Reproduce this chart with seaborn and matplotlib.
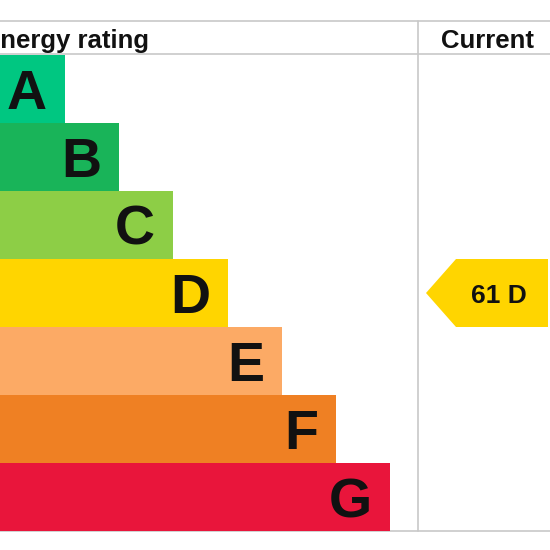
import matplotlib
matplotlib.use("Agg")
import matplotlib.pyplot as plt
import seaborn as sns
from matplotlib.patches import Polygon

# EPC bands, bar lengths and colours
bands = ["A", "B", "C", "D", "E", "F", "G"]
bar_length = [65, 119, 173, 228, 282, 336, 390]
band_colors = ["#00c781", "#19b459", "#8dce46", "#ffd500", "#fcaa65", "#ef8023", "#e9153b"]

current_score = 61
current_band = "D"

sns.set_theme(style="white")
plt.rcParams["font.family"] = ["Liberation Sans", "DejaVu Sans"]

fig = plt.figure(figsize=(5.5, 5.5), dpi=100)
ax = fig.add_axes([0, 0, 1, 1])

sns.barplot(x=bar_length, y=bands, hue=bands, palette=band_colors, orient="h",
            width=1.0, legend=False, saturation=1, linewidth=0, ax=ax)

# row geometry in pixels -> category units
row_h = 68.0
top_px = 55.0


def py(px):
    return (px - top_px) / row_h - 0.5


ax.set_xlim(0, 550)
ax.set_ylim(py(550), py(0))
ax.axis("off")

# band letters
for i, (b, w) in enumerate(zip(bands, bar_length)):
    ax.text(w - 18, i + 20 / row_h, b, ha="right", va="baseline",
            fontsize=40, fontweight="bold", color="#111111")

# table lines
grid = dict(color="#c8c8c8", lw=1.2, zorder=0)
ax.plot([0, 550], [py(21), py(21)], **grid)
ax.plot([0, 550], [py(54.5), py(54.5)], **grid)
ax.plot([0, 550], [py(531), py(531)], **grid)
ax.plot([418, 418], [py(21), py(531)], **grid)

# headers
ax.text(-17, py(48), "Energy rating", ha="left", va="baseline",
        fontsize=18.5, fontweight="bold", color="#111111")
ax.text(487, py(48), "Current", ha="center", va="baseline",
        fontsize=18.5, fontweight="bold", color="#111111")

# current rating arrow
ci = bands.index(current_band)
arrow = Polygon([(426, ci), (456, ci - 0.5), (548, ci - 0.5), (548, ci + 0.5), (456, ci + 0.5)],
                closed=True, facecolor=band_colors[ci], edgecolor="none")
ax.add_patch(arrow)
ax.text(499, ci + 10 / row_h, f"{current_score} {current_band}", ha="center", va="baseline",
        fontsize=19, fontweight="bold", color="#111111")

fig.savefig("out.png", dpi=100, facecolor="white")
